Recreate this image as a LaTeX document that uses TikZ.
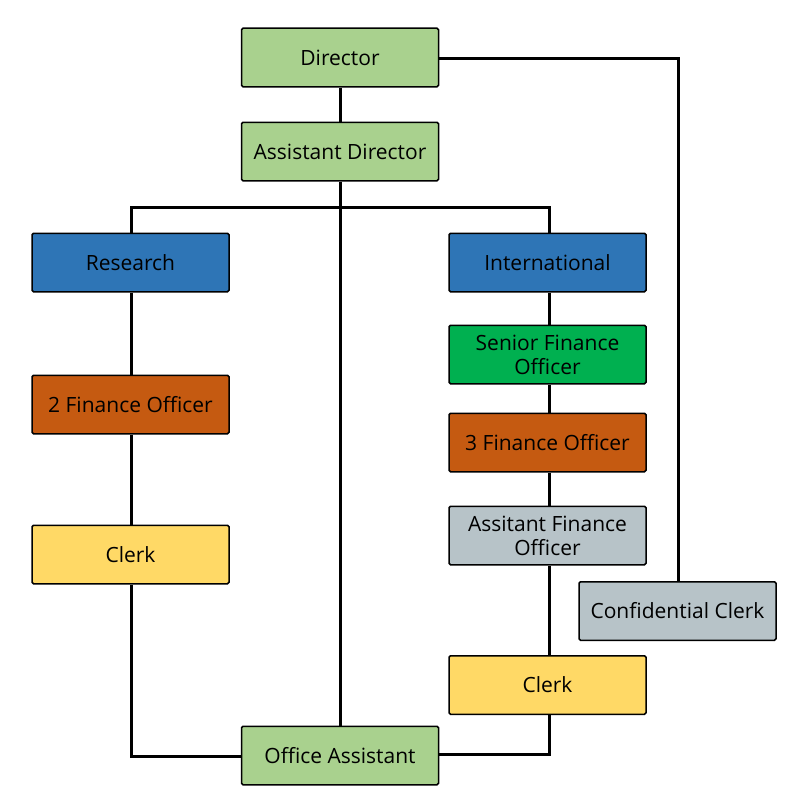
\documentclass[tikz,border=0pt]{standalone}
\usepackage{fontspec}
\setmainfont{Open Sans}
\definecolor{lgreen}{HTML}{A9D18E}
\definecolor{mblue}{HTML}{2E75B6}
\definecolor{morange}{HTML}{C55A11}
\definecolor{myellow}{HTML}{FFD966}
\definecolor{mgrey}{HTML}{B7C3C8}
\definecolor{mgreen}{HTML}{00B050}
\begin{document}
\begin{tikzpicture}[x=1pt,y=-1pt,
  box/.style={draw=black,line width=1.5pt,rounded corners=1.5pt,minimum width=197pt,minimum height=58.5pt,inner sep=0pt,align=center,font=\fontsize{21}{24}\selectfont},
  conn/.style={line width=3pt}]
\useasboundingbox (0,0) rectangle (800,800);
\coordinate (cr) at (678,59);
\coordinate (ll) at (131,756);
\coordinate (rl) at (549,754);
\node[box,fill=lgreen] (dir) at (340,57.5) {Director};
\node[box,fill=lgreen] (ad) at (340,151.5) {Assistant Director};
\node[box,fill=mblue] (res) at (130.5,262.5) {Research};
\node[box,fill=mblue] (int) at (547.5,262.5) {International};
\node[box,fill=mgreen] (sfo) at (547.5,354.5) {Senior Finance\\Officer};
\node[box,fill=morange] (fo3) at (547.5,442.5) {3 Finance Officer};
\node[box,fill=mgrey] (afo) at (547.5,535.5) {Assitant Finance\\Officer};
\node[box,fill=mgrey] (cc) at (677.5,611) {Confidential Clerk};
\node[box,fill=myellow] (clr) at (547.5,685) {Clerk};
\node[box,fill=morange] (fo2) at (130.5,404.5) {2 Finance Officer};
\node[box,fill=myellow] (cll) at (130.5,554.5) {Clerk};
\node[box,fill=lgreen] (oa) at (340,755.5) {Office Assistant};
\draw[conn] (dir.south) -- (ad.north);
\draw[conn] (ad.south) -- (oa.north);
\draw[conn] (res.north -| 131,0) -- (131,207) -- (549,207) -- (int.north -| 549,0);
\draw[conn] (res.south -| 131,0) -- (fo2.north -| 131,0);
\draw[conn] (fo2.south -| 131,0) -- (cll.north -| 131,0);
\draw[conn] (cll.south -| 131,0) -- (ll) -- (oa.west |- ll);
\draw[conn] (int.south -| 549,0) -- (sfo.north -| 549,0);
\draw[conn] (sfo.south -| 549,0) -- (fo3.north -| 549,0);
\draw[conn] (fo3.south -| 549,0) -- (afo.north -| 549,0);
\draw[conn] (afo.south -| 549,0) -- (clr.north -| 549,0);
\draw[conn] (clr.south -| 549,0) -- (rl) -- (oa.east |- rl);
\draw[conn] (dir.east |- cr) -- (cr) -- (cc.north -| cr);
\end{tikzpicture}
\end{document}
